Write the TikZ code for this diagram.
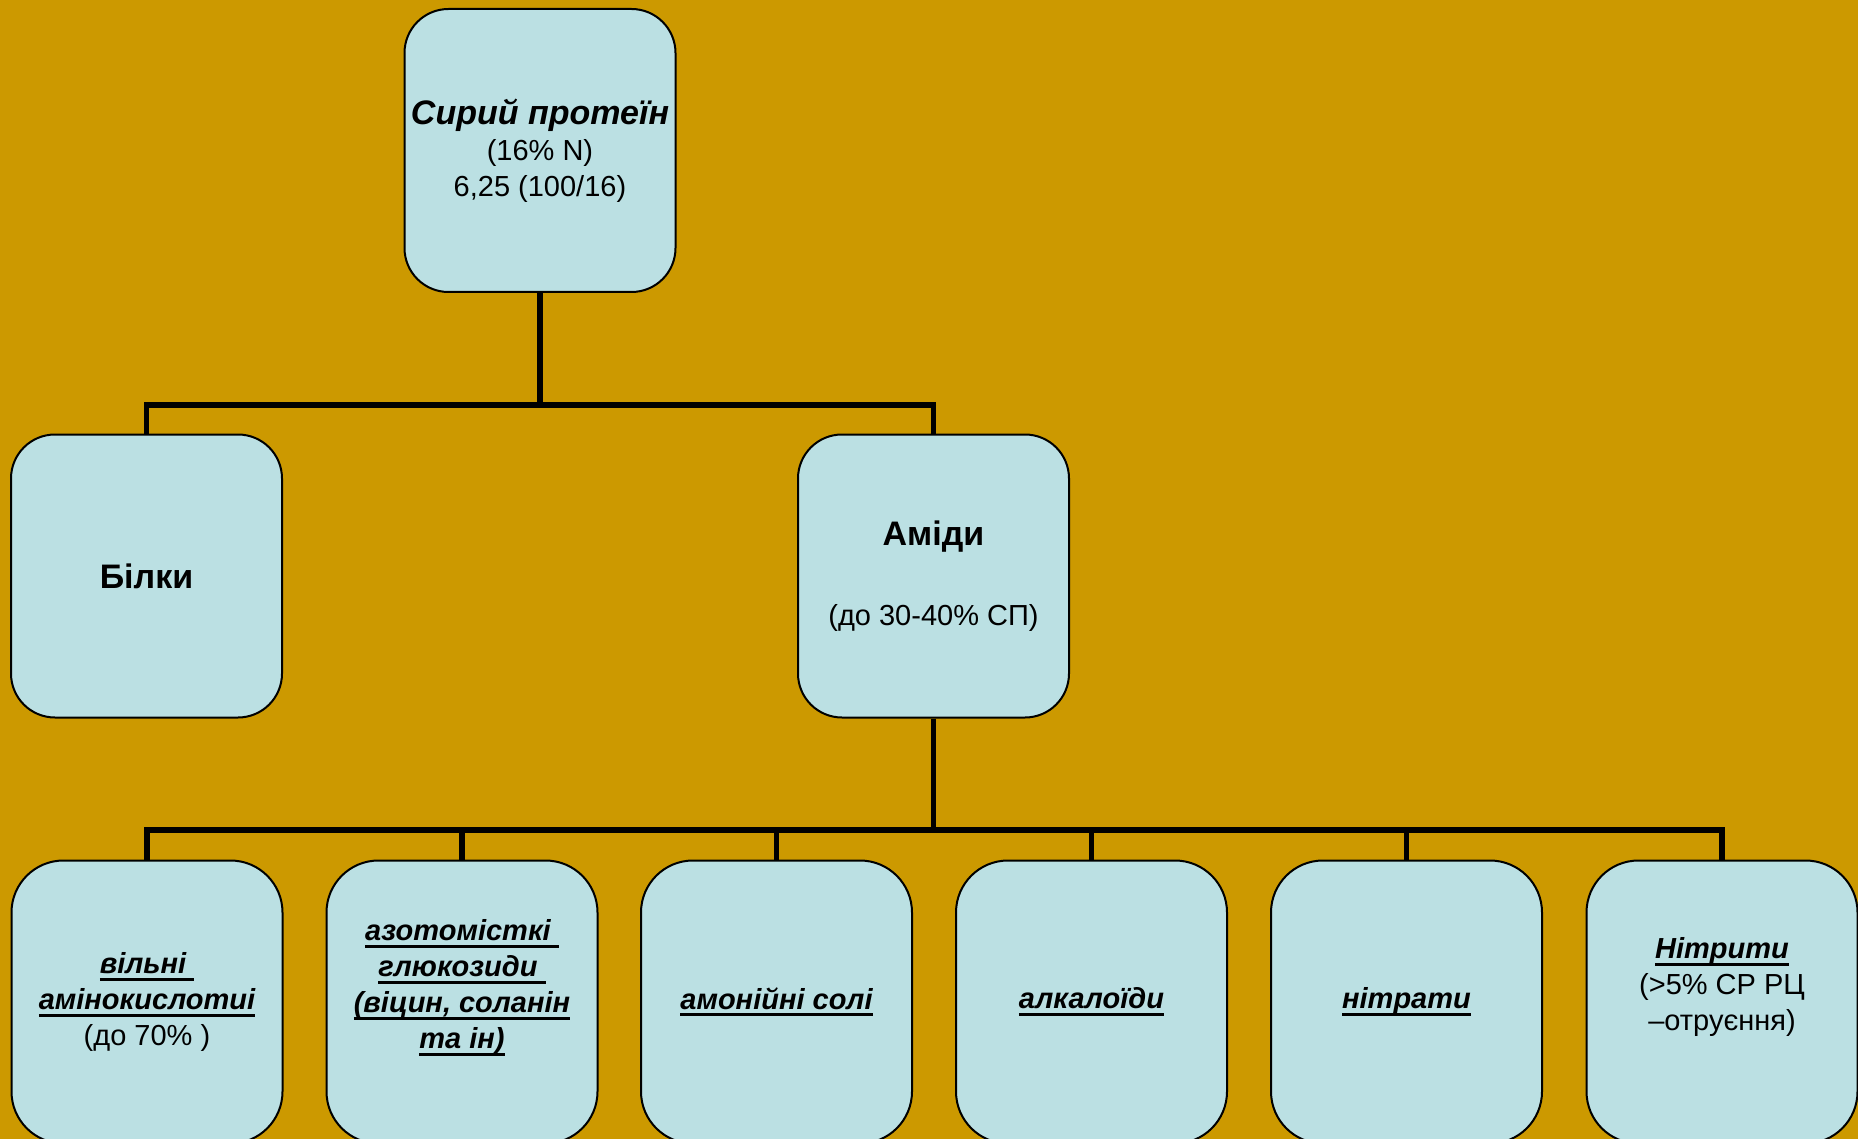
\documentclass[tikz,border=0pt]{standalone}
\usepackage{fontspec}
\setmainfont{Liberation Sans}

\definecolor{bgochre}{RGB}{204,153,0}
\definecolor{boxcyan}{RGB}{187,224,227}

\tikzset{
  box/.style={draw=black, line width=1pt, fill=boxcyan, rounded corners=22pt,
    minimum width=135.5pt, minimum height=141.5pt, inner sep=2pt,
    align=center, font=\fontsize{14.5}{18}\selectfont},
  link/.style={line width=2.8pt, line join=miter},
}
\newcommand{\headfont}{\fontsize{17}{20}\selectfont\bfseries}
% bold italic, underlined
\newcommand{\ubi}[1]{{\bfseries\itshape\setbox0\hbox{#1}%
  \rlap{\rule[-3.6pt]{\wd0}{1.5pt}}\box0}}

\begin{document}
\begin{tikzpicture}[x=0.5pt, y=-0.5pt]
  \clip (0,0) rectangle (1858,1139);
  \fill[bgochre] (0,0) rectangle (1858,1139);

  % top level
  \node[box] (protein) at (540,150.5)
    {\rule{0pt}{6pt}{\headfont\itshape Сирий протеїн}\\ (16\% N)\\ 6,25 (100/16)};

  % second level
  \node[box] (bilky) at (146.5,576) {\headfont Білки};
  \node[box] (amidy) at (933.5,576)
    {\rule{0pt}{6pt}{\headfont Аміди}\\[22pt] (до 30-40\% СП)};

  % third level
  \node[box, rounded corners=26pt] (b1) at (147,1002)
    {\ubi{вільні }\\ \ubi{амінокислотиі}\\ (до 70\% )};
  \node[box, rounded corners=26pt] (b2) at (462,1002)
    {\ubi{азотомісткі }\\ \ubi{глюкозиди }\\
     \ubi{(віцин, соланін}\\ \ubi{та ін)}\\ \mbox{}};
  \node[box, rounded corners=26pt] (b3) at (776.5,1002) {\ubi{амонійні солі}};
  \node[box, rounded corners=26pt] (b4) at (1091.5,1002) {\ubi{алкалоїди}};
  \node[box, rounded corners=26pt] (b5) at (1406.5,1002) {\ubi{нітрати}};
  \node[box, rounded corners=26pt] (b6) at (1722,1002)
    {\ubi{Нітрити}\\ (>5\% СР РЦ\\ –отруєння)\\ \mbox{}};

  % connectors
  \coordinate (bus1) at (540,405);
  \coordinate (bus2) at (933.5,830);
  \draw[link] (protein.south) -- (bus1);
  \draw[link] (bilky.north) |- (bus1) -| (amidy.north);
  \draw[link] (amidy.south) -- (bus2);
  \foreach \i in {1,...,6}
    \draw[link] (b\i.north) |- (bus2);
\end{tikzpicture}
\end{document}
